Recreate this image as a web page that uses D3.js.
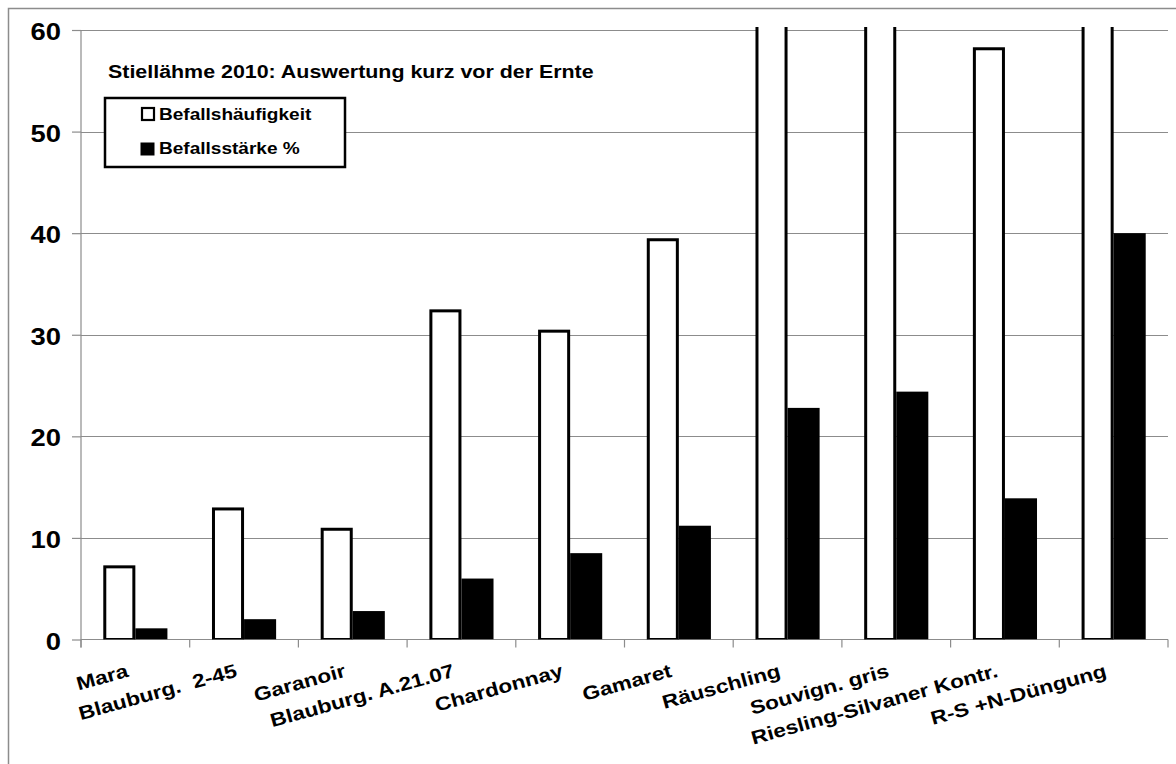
<!DOCTYPE html>
<html>
<head>
<meta charset="utf-8">
<script src="https://cdn.jsdelivr.net/npm/d3@7"></script>
<style>
  html, body { margin: 0; padding: 0; background: #fff; }
  svg { display: block; }
  text { font-family: "Liberation Sans", Arial, sans-serif; font-weight: bold; fill: #000; white-space: pre; }
</style>
</head>
<body>
<svg id="chart" width="1176" height="764"></svg>
<script>
// Stiellähme 2010 – assessment shortly before harvest
const categories = [
  "Mara", "Blauburg.  2-45", "Garanoir", "Blauburg. A.21.07", "Chardonnay",
  "Gamaret", "Räuschling", "Souvign. gris", "Riesling-Silvaner Kontr.", "R-S +N-Düngung"
];
const befallshaeufigkeit = [7.3, 13.0, 11.0, 32.5, 30.5, 39.5, 72.0, 78.0, 58.3, 85.0];
const befallsstaerke     = [1.1, 2.0, 2.8, 6.0, 8.5, 11.2, 22.8, 24.4, 13.9, 40.0];
const seriesNames = ["Befallshäufigkeit", "Befallsstärke %"];
const yTicks = [0, 10, 20, 30, 40, 50, 60];
const titleText = "Stiellähme 2010: Auswertung kurz vor der Ernte";

const svg = d3.select("#chart");
const plot = { left: 81, right: 1168, top: 30, bottom: 639.5 };
const gridColor = "#8c8c8c";
const stretch = 1.19; // wide bold lettering

// outer chart frame (runs past the right and bottom edges)
svg.append("rect")
  .attr("x", 8.5).attr("y", 8.5)
  .attr("width", 1300).attr("height", 900)
  .attr("fill", "none").attr("stroke", gridColor).attr("stroke-width", 1.5);

const y = d3.scaleLinear().domain([0, 60]).range([plot.bottom, plot.top]);
const x0 = d3.scaleBand().domain(categories).range([plot.left, plot.right]).padding(0);
const gap = x0.step() * 0.205;
const x1 = d3.scaleBand().domain(seriesNames).range([gap, x0.step() - gap]).padding(0);

// horizontal gridlines
svg.append("g")
  .selectAll("line")
  .data(yTicks.filter(d => d !== 0))
  .join("line")
  .attr("x1", plot.left).attr("x2", plot.right)
  .attr("y1", d => Math.round(y(d)) + 0.5).attr("y2", d => Math.round(y(d)) + 0.5)
  .attr("stroke", gridColor).attr("stroke-width", 1.2);

// y axis
const yAxis = d3.axisLeft(y).tickValues(yTicks).tickSize(9).tickPadding(0).tickFormat(d3.format("d"));
const gy = svg.append("g").attr("transform", `translate(${plot.left},0)`).call(yAxis);
gy.select(".domain").attr("stroke", gridColor).attr("stroke-width", 1.2)
  .attr("d", `M0,${plot.top}V${plot.bottom + 8}`);
gy.selectAll(".tick line").attr("stroke", gridColor).attr("stroke-width", 1.2);
gy.selectAll(".tick text")
  .attr("x", 0)
  .attr("transform", `translate(-20,1.5) scale(${stretch},1)`)
  .style("font-size", "23px").style("font-family", "'Liberation Sans', Arial, sans-serif")
  .style("font-weight", "bold").attr("fill", "#000").attr("dy", "0.35em");

// x axis (ticks at category boundaries)
const boundaries = d3.range(categories.length + 1).map(i => plot.left + i * x0.step());
const gx = svg.append("g");
gx.append("line")
  .attr("x1", plot.left).attr("x2", plot.right)
  .attr("y1", plot.bottom).attr("y2", plot.bottom)
  .attr("stroke", gridColor).attr("stroke-width", 1.2);
gx.selectAll("line.tk")
  .data(boundaries)
  .join("line").attr("class", "tk")
  .attr("x1", d => d).attr("x2", d => d)
  .attr("y1", plot.bottom).attr("y2", plot.bottom + 8)
  .attr("stroke", gridColor).attr("stroke-width", 1.2);

// category labels, rotated and anchored at the end
gx.selectAll("text")
  .data(categories)
  .join("text")
  .attr("text-anchor", "end")
  .attr("transform", d => `translate(${x0(d) + x0.bandwidth() / 2 - 6},${plot.bottom + 37}) rotate(-15.5) scale(${stretch},1)`)
  .style("font-size", "19px")
  .text(d => d);

// bars, clipped at the top of the value range
svg.append("clipPath").attr("id", "plotClip")
  .append("rect").attr("x", plot.left).attr("y", plot.top - 3)
  .attr("width", plot.right - plot.left).attr("height", plot.bottom - plot.top + 3);

const rows = categories.map((c, i) => ({
  cat: c,
  values: [
    { key: seriesNames[0], v: befallshaeufigkeit[i] },
    { key: seriesNames[1], v: befallsstaerke[i] }
  ]
}));

const bars = svg.append("g").attr("clip-path", "url(#plotClip)");
const groups = bars.selectAll("g").data(rows).join("g")
  .attr("transform", d => `translate(${x0(d.cat)},0)`);

groups.selectAll("rect")
  .data(d => d.values)
  .join("rect")
  .attr("x", d => d.key === seriesNames[0] ? x1(d.key) + 1.5 : x1(d.key))
  .attr("width", d => d.key === seriesNames[0] ? x1.bandwidth() - 3 : x1.bandwidth())
  .attr("y", d => d.key === seriesNames[0] ? y(d.v) + 1.5 : y(d.v))
  .attr("height", d => d.key === seriesNames[0] ? plot.bottom - y(d.v) - 1.5 : plot.bottom - y(d.v))
  .attr("fill", d => d.key === seriesNames[0] ? "#fff" : "#000")
  .attr("stroke", d => d.key === seriesNames[0] ? "#000" : "none")
  .attr("stroke-width", 3);

// title
svg.append("text")
  .attr("transform", `translate(108,78) scale(${stretch},1)`)
  .style("font-size", "18px")
  .text(titleText);

// legend
const lg = svg.append("g").attr("transform", "translate(105,98)");
lg.append("rect").attr("width", 240).attr("height", 69)
  .attr("fill", "#fff").attr("stroke", "#000").attr("stroke-width", 2.5);
const items = lg.selectAll("g.item").data(seriesNames).join("g").attr("class", "item")
  .attr("transform", (d, i) => `translate(36,${15 + i * 34})`);
items.append("rect")
  .attr("x", (d, i) => i === 0 ? 1 : 0).attr("y", (d, i) => i === 0 ? -5 : -4)
  .attr("width", (d, i) => i === 0 ? 12 : 13).attr("height", 12)
  .attr("fill", (d, i) => i === 0 ? "#fff" : "#000")
  .attr("stroke", "#000").attr("stroke-width", (d, i) => i === 0 ? 2.2 : 1);
items.append("text")
  .attr("transform", `translate(18,7) scale(${stretch},1)`)
  .style("font-size", "16px")
  .text(d => d);
</script>
</body>
</html>
